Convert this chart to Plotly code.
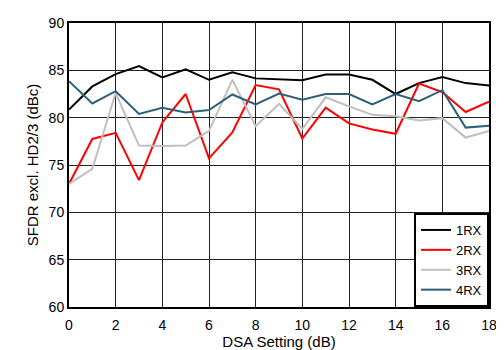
import plotly.graph_objects as go

dsa = list(range(19))
rx1 = [80.85, 83.3, 84.6, 85.45, 84.25, 85.1, 84.0, 84.8, 84.15, 84.05, 83.95, 84.55, 84.55, 84.0, 82.5, 83.65, 84.3, 83.65, 83.4]
rx2 = [73.0, 77.75, 78.4, 73.4, 79.5, 82.5, 75.7, 78.45, 83.45, 83.0, 77.8, 81.05, 79.4, 78.75, 78.3, 83.6, 82.7, 80.6, 81.7]
rx3 = [73.0, 74.6, 82.6, 77.05, 77.0, 77.05, 78.6, 84.0, 79.1, 81.45, 78.8, 82.15, 81.2, 80.3, 80.15, 79.7, 79.95, 77.9, 78.6]
rx4 = [83.85, 81.5, 82.8, 80.4, 81.05, 80.55, 80.8, 82.45, 81.4, 82.55, 81.9, 82.5, 82.5, 81.4, 82.5, 81.75, 82.9, 78.95, 79.15]

names = ["1RX", "2RX", "3RX", "4RX"]
colors = ["#000000", "#ff0000", "#bfbfbf", "#2c5f78"]

fig = go.Figure()
for n, ys, c in zip(names, [rx1, rx2, rx3, rx4], colors):
    fig.add_trace(go.Scatter(x=dsa, y=ys, mode="lines", name=n,
                             line=dict(color=c, width=2)))

fig.update_layout(
    width=496, height=342,
    margin=dict(l=61, r=9, t=7, b=43),
    paper_bgcolor="white", plot_bgcolor="white",
    font=dict(family="Liberation Sans, Arial", size=14, color="black"),
    legend=dict(x=1, y=0, xanchor="right", yanchor="bottom",
                bordercolor="black", borderwidth=2, bgcolor="white",
                font=dict(size=13), tracegroupgap=0, itemwidth=30),
)
fig.update_xaxes(range=[0, 18], tickvals=list(range(0, 19, 2)),
                 showgrid=True, gridcolor="#222222", gridwidth=1,
                 showline=True, linecolor="black", linewidth=2, mirror=True,
                 zeroline=False, ticks="", ticklabelstandoff=4,
                 title=dict(text="DSA Setting (dB)", standoff=0, font=dict(size=15)))
fig.update_yaxes(range=[60, 90], tickvals=list(range(60, 91, 5)),
                 showgrid=True, gridcolor="#222222", gridwidth=1,
                 showline=True, linecolor="black", linewidth=2, mirror=True,
                 zeroline=False, ticks="",
                 title=dict(text="SFDR excl. HD2/3 (dBc)", standoff=6, font=dict(size=15)))

fig.write_html("out.html")
